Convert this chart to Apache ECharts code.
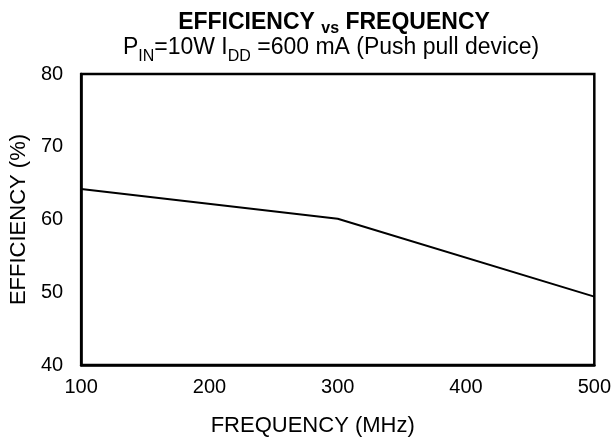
<!DOCTYPE html>
<html>
<head>
<meta charset="utf-8">
<script src="https://cdn.jsdelivr.net/npm/echarts@6/dist/echarts.min.js"></script>
<style>html,body{margin:0;padding:0;background:#fff}#c{width:614px;height:442px}</style>
</head>
<body>
<div id="c"></div>
<script>
var frequency = [100, 300, 500];
var efficiency = [64.2, 60.1, 49.4];
var xTicks = [100, 200, 300, 400, 500];
var yTicks = [40, 50, 60, 70, 80];

var chart = echarts.init(document.getElementById('c'));
var F = 'Liberation Sans, Arial, sans-serif';
chart.setOption({
  animation: false,
  backgroundColor: '#fff',
  title: [{
    text: '{b|EFFICIENCY }{s|vs}{b| FREQUENCY}',
    left: 329, top: 4, textAlign: 'center',
    textStyle: {
      rich: {
        b: {fontFamily: F, fontWeight: 'bold', fontSize: 23, color: '#000', lineHeight: 25, verticalAlign: 'bottom'},
        s: {fontFamily: F, fontWeight: 'bold', fontSize: 16, color: '#000', lineHeight: 25, verticalAlign: 'bottom', padding: [0, 0, -3, 0]}
      }
    }
  }, {
    text: 'P{sub|IN}=10W I{sub|DD} =600 mA (Push pull device)',
    left: 326, top: 30, textAlign: 'center',
    textStyle: {
      fontFamily: F, fontWeight: 'normal', fontSize: 23, color: '#000', lineHeight: 26,
      rich: {
        sub: {fontFamily: F, fontSize: 16, color: '#000', lineHeight: 26, verticalAlign: 'bottom', padding: [0, 0, -4, 0]}
      }
    }
  }],
  grid: {left: 80, right: 19, top: 74, bottom: 75, show: true, borderColor: '#000', borderWidth: 2.5, backgroundColor: '#fff'},
  xAxis: {
    type: 'value', min: 100, max: 500, interval: 100,
    name: 'FREQUENCY (MHz)', nameLocation: 'middle', nameGap: 50,
    nameTextStyle: {fontFamily: F, fontSize: 22, color: '#000', padding: [0, 50, 0, 0]},
    axisLine: {show: true, lineStyle: {color: '#000', width: 2.5}},
    axisTick: {show: false}, splitLine: {show: false},
    axisLabel: {fontFamily: F, fontSize: 20, color: '#000', margin: 12,
      formatter: function (v) { return xTicks.indexOf(v) >= 0 ? String(v) : ''; }}
  },
  yAxis: {
    type: 'value', min: 40, max: 80, interval: 10,
    name: 'EFFICIENCY (%)', nameLocation: 'middle', nameGap: 48, nameRotate: 90,
    nameTextStyle: {fontFamily: F, fontSize: 22, color: '#000'},
    axisLine: {show: true, lineStyle: {color: '#000', width: 2.5}},
    axisTick: {show: false}, splitLine: {show: false},
    axisLabel: {fontFamily: F, fontSize: 20, color: '#000', margin: 18,
      formatter: function (v) { return yTicks.indexOf(v) >= 0 ? String(v) : ''; }}
  },
  series: [{
    type: 'line',
    data: frequency.map(function (f, i) { return [f, efficiency[i]]; }),
    symbol: 'none',
    lineStyle: {color: '#000', width: 2}
  }]
});
</script>
</body>
</html>
